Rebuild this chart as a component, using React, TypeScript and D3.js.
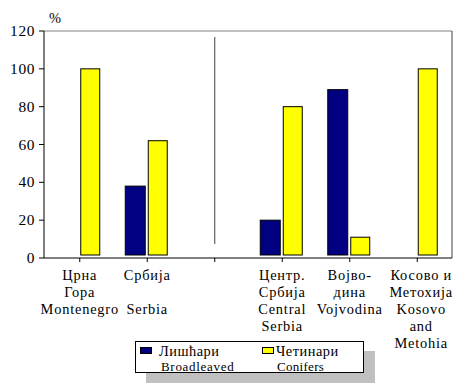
import React from 'react';
import * as d3 from 'd3';

// categories (empty slot in the middle holds the divider line)
const categories = ['me', 'rs', 'gap', 'cs', 'vo', 'km'];
const labelLines: string[][] = [
    ['Црна', 'Гора', 'Montenegro'],
    ['Србија', '', 'Serbia'],
    [],
    ['Центр.', 'Србија', 'Central', 'Serbia'],
    ['Војво-', 'дина', 'Vojvodina'],
    ['Косово и', 'Метохија', 'Kosovo', 'and', 'Metohia'],
];
const broadleaved = [0, 38, null, 20, 89, 0];
const conifers = [100, 62, null, 80, 11, 100];
const yTicks = [0, 20, 40, 60, 80, 100, 120];

const W = 453;
const H = 385;
const font = 'Liberation Serif';

export default function App() {
    const left = 44;
    const right = 452;
    const top = 31;
    const bottom = 258;

    const x = d3.scaleBand<string>().domain(categories).range([46, 451]).padding(0);
    const y = d3.scaleLinear().domain([0, 120]).range([bottom, top]);
    const barW = 20;
    const base = y(0) - 3;

    return (
        <svg width={W} height={H} style={{ position: 'absolute', left: 0, top: 0 }}>
            <rect width={W} height={H} fill="white" />

            {/* frame */}
            <line x1={left} x2={right} y1={top} y2={top} stroke="#808080" />
            <line x1={right} x2={right} y1={top} y2={bottom} stroke="#404040" />
            <line x1={left} x2={left} y1={top} y2={bottom} stroke="black" />
            <line x1={left} x2={right} y1={bottom} y2={bottom} stroke="black" />

            {/* y axis */}
            {yTicks.map(t => (
                <g key={t}>
                    <line x1={left - 5} x2={left} y1={y(t)} y2={y(t)} stroke="black" />
                    <text x={35} y={y(t) + 5} textAnchor="end" fontFamily={font} fontSize={15.4} letterSpacing={0.6}>{t}</text>
                </g>
            ))}
            <text x={55} y={23} textAnchor="middle" fontFamily={font} fontSize={14.4}>%</text>

            {/* x ticks */}
            {categories.map(c => {
                const cx = (x(c) ?? 0) + x.bandwidth() / 2;
                return <line key={c} x1={cx} x2={cx} y1={bottom} y2={bottom + 4} stroke="black" />;
            })}

            {/* divider */}
            <line x1={(x('gap') ?? 0) + x.bandwidth() / 2} x2={(x('gap') ?? 0) + x.bandwidth() / 2}
                y1={37} y2={244} stroke="#404040" />

            {/* bars */}
            {categories.map((c, i) => {
                const cx = (x(c) ?? 0) + x.bandwidth() / 2;
                const b = broadleaved[i];
                const k = conifers[i];
                return (
                    <g key={c}>
                        {b ? <rect x={cx - 22} y={y(b)} width={barW} height={base - y(b)}
                            fill="#000080" stroke="black" /> : null}
                        {k ? <rect x={cx + 1} y={y(k)} width={barW - 1} height={base - y(k)}
                            fill="#ffff00" stroke="black" /> : null}
                    </g>
                );
            })}

            {/* x labels */}
            {categories.map((c, i) => {
                const cx = (x(c) ?? 0) + x.bandwidth() / 2;
                return labelLines[i].map((s, j) => (
                    <text key={c + j} x={c === 'km' ? cx + 4 : cx} y={280 + j * 17} textAnchor="middle"
                        fontFamily={font} fontSize={14.4} letterSpacing={0.8}>{s}</text>
                ));
            })}

            {/* legend */}
            <rect x={146} y={351} width={229} height={32} fill="#c0c0c0" />
            <rect x={135.5} y={341.5} width={228} height={31} fill="white" stroke="black" />
            <rect x={140.5} y={347.5} width={11} height={6} fill="#000080" stroke="black" />
            <text x={159} y={356} fontFamily={font} fontSize={14.4} letterSpacing={0.5}>Лишћари</text>
            <text x={161} y={371} fontFamily={font} fontSize={13} letterSpacing={0.7}>Broadleaved</text>
            <rect x={262.5} y={347.5} width={11} height={6} fill="#ffff00" stroke="black" />
            <text x={276} y={356} fontFamily={font} fontSize={14.4} letterSpacing={0.5}>Четинари</text>
            <text x={277} y={371} fontFamily={font} fontSize={13} letterSpacing={0.3}>Conifers</text>
        </svg>
    );
}
